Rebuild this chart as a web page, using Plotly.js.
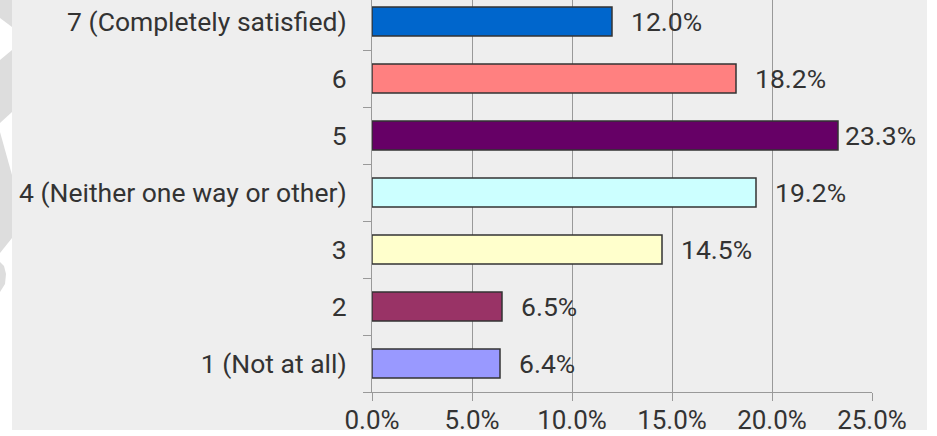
<!DOCTYPE html>
<html>
<head>
<meta charset="utf-8">
<script src="https://cdn.plot.ly/plotly-3.0.1.min.js"></script>
<style>html,body{margin:0;padding:0;background:#fff;}#chart{width:937px;height:436px;}</style>
</head>
<body>
<div id="chart"></div>
<script>
const categories = ["1 (Not at all)", "2", "3", "4 (Neither one way or other)", "5", "6", "7 (Completely satisfied)"];
const values = [6.4, 6.5, 14.5, 19.2, 23.3, 18.2, 12.0];
const barColors = ["#9999FF", "#993366", "#FFFFCC", "#CCFFFF", "#660066", "#FF8080", "#0066CC"];
const xTickVals = [0, 5, 10, 15, 20, 25];
const xTickText = ["0.0%", "5.0%", "10.0%", "15.0%", "20.0%", "25.0%"];

const W = 937, H = 436;
const M = {l: 372, r: 65, t: 0, b: 44};
const PW = W - M.l - M.r, PH = H - M.t - M.b;
const xMax = 25;
const px = x => (x - M.l) / PW;
const py = y => 1 - (y - M.t) / PH;
function poly(pts, color) {
  let d = pts.map((p, i) => (i ? 'L' : 'M') + px(p[0]) + ',' + py(p[1])).join(' ') + ' Z';
  return {type: 'path', xref: 'paper', yref: 'paper', path: d, fillcolor: color, line: {width: 0}, layer: 'below'};
}

const shapes = [
  {type: 'rect', xref: 'paper', yref: 'paper', x0: px(12), x1: px(927), y0: py(430), y1: py(0), fillcolor: '#EEEEEE', line: {width: 0}, layer: 'below'},
  poly([[0,0],[12,0],[12,27],[0,18]], '#DDDDDD'),
  poly([[0,60],[12,50],[12,112],[0,123]], '#DDDDDD'),
  poly([[0,132],[12,175],[12,238],[0,253]], '#DDDDDD'),
  poly([[0,262],[4,266],[6,274],[5,284],[0,292]], '#DDDDDD')
];

const fontFam = 'Roboto, "Liberation Sans", Arial, sans-serif';
const annotations = values.map((v, i) => {
  const txt = v.toFixed(1) + '%';
  const barEnd = M.l + v / xMax * PW;
  const estW = txt.length * 14.4;
  const shift = Math.min(17, 915 - estW - barEnd);
  return {x: v, y: i, xref: 'x', yref: 'y', text: txt, showarrow: false,
          xanchor: 'left', yanchor: 'middle', xshift: shift,
          font: {family: fontFam, size: 26.5, color: '#333333'}};
});

const trace = {
  type: 'bar', orientation: 'h',
  x: values, y: categories,
  marker: {color: barColors, line: {color: '#333333', width: 1.5}},
  hoverinfo: 'skip'
};

const layout = {
  width: W, height: H,
  margin: M,
  paper_bgcolor: '#FFFFFF',
  plot_bgcolor: 'rgba(0,0,0,0)',
  showlegend: false,
  bargap: 0.49,
  font: {family: fontFam, size: 26, color: '#333333'},
  xaxis: {
    range: [0, xMax], tickvals: xTickVals, ticktext: xTickText,
    showgrid: true, gridcolor: '#999999', gridwidth: 1, zeroline: false,
    showline: true, linecolor: '#999999', linewidth: 1,
    ticks: 'outside', ticklen: 8, tickcolor: '#999999', tickwidth: 1,
    ticklabelstandoff: -3,
    tickfont: {family: fontFam, size: 26, color: '#333333'}, fixedrange: true
  },
  yaxis: {
    type: 'category', categoryorder: 'array', categoryarray: categories,
    range: [-0.5, 6.5 - 7 / 57],
    showgrid: false, zeroline: false,
    showline: true, linecolor: '#999999', linewidth: 1,
    ticks: 'outside', tickson: 'boundaries', ticklen: 8, tickcolor: '#999999', tickwidth: 1,
    ticklabelstandoff: 19,
    tickfont: {family: fontFam, size: 26.5, color: '#333333'}, fixedrange: true
  },
  shapes: shapes,
  annotations: annotations
};

Plotly.newPlot('chart', [trace], layout, {displayModeBar: false, staticPlot: true});
</script>
</body>
</html>
